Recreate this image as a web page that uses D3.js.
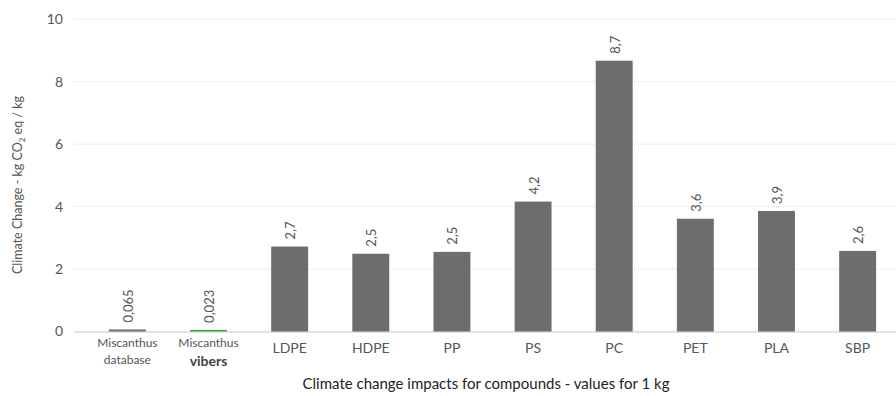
<!DOCTYPE html>
<html><head><meta charset="utf-8">
<script src="https://cdn.jsdelivr.net/npm/d3@7"></script>
<style>body{margin:0;background:#fff;} svg{display:block;font-family:Lato, "Open Sans", sans-serif;}</style>
</head><body>
<svg id="c" width="896" height="396"></svg>
<script>
const categories = ["Miscanthus database","Miscanthus vibers","LDPE","HDPE","PP","PS","PC","PET","PLA","SBP"];
const values = [0.065,0.023,2.72,2.49,2.55,4.16,8.67,3.61,3.86,2.58];
const valueLabels = ["0,065","0,023","2,7","2,5","2,5","4,2","8,7","3,6","3,9","2,6"];
const yTicks = [0,2,4,6,8,10];
const highlight = ["Miscanthus vibers"];

const svg = d3.select("#c");
const y = d3.scaleLinear().domain([0,10]).range([331.5,19.2]);
const x = d3.scaleBand().domain(categories).range([87,898]).paddingInner(0.545).paddingOuter(0.27);
const gridX0 = 74, gridX1 = 896;

// grid
svg.append("g").selectAll("line").data(yTicks.filter(d=>d>0)).join("line")
  .attr("x1",gridX0).attr("x2",gridX1).attr("y1",d=>y(d)).attr("y2",d=>y(d))
  .attr("stroke","#dcdcdc").attr("stroke-width",1).attr("stroke-dasharray","1,1");
// baseline
svg.append("line").attr("x1",gridX0).attr("x2",gridX1).attr("y1",y(0)+0.5).attr("y2",y(0)+0.5)
  .attr("stroke","#d9d9d9").attr("stroke-width",1.5);

// y axis labels
const yAxis = d3.axisLeft(y).tickValues(yTicks).tickSize(0).tickPadding(0);
const ga = svg.append("g").attr("transform","translate(63,0)").call(yAxis);
ga.select(".domain").remove();
ga.selectAll("text").attr("font-size",14).attr("fill","#555").attr("font-family","Lato, sans-serif");

// bars
svg.append("g").selectAll("rect").data(categories).join("rect")
  .attr("x",d=>x(d)).attr("width",x.bandwidth())
  .attr("y",(d,i)=>Math.min(y(values[i]), y(0)-1.6))
  .attr("height",(d,i)=>Math.max(y(0)-y(values[i]),1.6))
  .attr("fill",d=>highlight.includes(d)?"#3aa53a":"#6d6d6d");

// value labels
svg.append("g").selectAll("text").data(categories).join("text")
  .attr("transform",(d,i)=>`translate(${x(d)+x.bandwidth()/2+1},${Math.min(y(values[i]),y(0)-1.6)-7}) rotate(-90)`)
  .attr("dy","0.35em").attr("text-anchor","start")
  .attr("font-size",13).attr("fill","#555").text((d,i)=>valueLabels[i]);

// x labels
const xl = svg.append("g");
categories.forEach((c,i)=>{
  const cx = x(c)+x.bandwidth()/2;
  if(c.startsWith("Miscanthus")){
    const sub = c.split(" ")[1];
    xl.append("text").attr("x",cx).attr("y",347).attr("text-anchor","middle").attr("fill","#555").attr("font-size",12).text("Miscanthus");
    const s2 = xl.append("text").attr("x",cx).attr("y",sub==="vibers"?366:364).attr("text-anchor","middle")
      .attr("fill","#555").attr("font-size",12).text(sub);
    if(sub==="vibers") s2.attr("font-weight","bold").attr("font-size",14).attr("fill","#444");
  } else {
    xl.append("text").attr("x",cx).attr("y",353).attr("text-anchor","middle").attr("fill","#555").attr("font-size",14).text(c);
  }
});

// axis titles
svg.append("text").attr("x",486).attr("y",389).attr("text-anchor","middle").attr("font-size",15).attr("fill","#222")
  .text("Climate change impacts for compounds - values for 1 kg");
const yt = svg.append("text").attr("transform","translate(22,185) rotate(-90)").attr("text-anchor","middle")
  .attr("font-size",12.5).attr("fill","#555");
yt.append("tspan").text("Climate Change - kg CO");
yt.append("tspan").attr("font-size",8).attr("dy",3).text("2");
yt.append("tspan").attr("dy",-3).text(" eq / kg");
</script>
</body></html>
